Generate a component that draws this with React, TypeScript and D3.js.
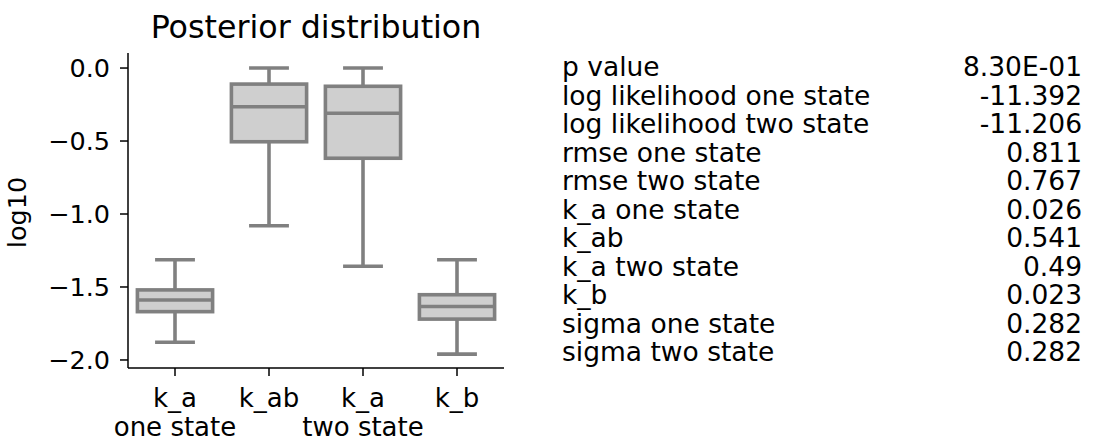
import React from "react";
import * as d3 from "d3";

// box plot values (log10)
const names = ["k_a", "k_ab", "k_a", "k_b"];
const subNames = ["one state", "", "two state", ""];
const whiskerHigh = [-1.313, 0.0, 0.0, -1.313];
const q3 = [-1.52, -0.11, -0.125, -1.553];
const median = [-1.589, -0.265, -0.31, -1.634];
const q1 = [-1.669, -0.505, -0.618, -1.72];
const whiskerLow = [-1.879, -1.08, -1.358, -1.96];
const yTicks = [0, -0.5, -1, -1.5, -2];

// stats table on the right
const statLabels = [
  "p value",
  "log likelihood one state",
  "log likelihood two state",
  "rmse one state",
  "rmse two state",
  "k_a one state",
  "k_ab",
  "k_a two state",
  "k_b",
  "sigma one state",
  "sigma two state",
];
const statValues = [
  "8.30E-01",
  "-11.392",
  "-11.206",
  "0.811",
  "0.767",
  "0.026",
  "0.541",
  "0.49",
  "0.023",
  "0.282",
  "0.282",
];

const W = 1107;
const H = 443;
const font = "'DejaVu Sans', sans-serif";
const boxStroke = "#808080";
const boxFill = "#cfcfcf";

export default function App() {
  const left = 128, right = 504, top = 53, bottom = 368;

  const x = d3.scaleBand<number>().domain(d3.range(names.length)).range([left, right]).padding(0);
  const y = d3.scaleLinear().domain([-2.055, 0.103]).range([bottom, top]);
  const fmt = d3.format(".1f");

  const bw = x.bandwidth() * 0.8;
  const capW = bw * 0.53;

  const rowY = d3.scaleLinear().domain([0, statLabels.length - 1]).range([76, 361]);

  return (
    <svg width={W} height={H} style={{ position: "absolute", left: 0, top: 0 }} fontFamily={font}>
      <rect width={W} height={H} fill="#fff" />

      <text x={316} y={38} fontSize={31.7} textAnchor="middle" fill="#000">
        Posterior distribution
      </text>

      {names.map((n, i) => {
        const cx = x(i)! + x.bandwidth() / 2;
        return (
          <g key={i} stroke={boxStroke} strokeWidth={3.6} fill="none">
            <line x1={cx} x2={cx} y1={y(q3[i])} y2={y(whiskerHigh[i])} />
            <line x1={cx} x2={cx} y1={y(q1[i])} y2={y(whiskerLow[i])} />
            <line x1={cx - capW / 2} x2={cx + capW / 2} y1={y(whiskerHigh[i])} y2={y(whiskerHigh[i])} />
            <line x1={cx - capW / 2} x2={cx + capW / 2} y1={y(whiskerLow[i])} y2={y(whiskerLow[i])} />
            <rect x={cx - bw / 2} width={bw} y={y(q3[i])} height={y(q1[i]) - y(q3[i])} fill={boxFill} />
            <line x1={cx - bw / 2} x2={cx + bw / 2} y1={y(median[i])} y2={y(median[i])} />
          </g>
        );
      })}

      {/* axes */}
      <line x1={left} x2={left} y1={top} y2={bottom} stroke="#000" strokeWidth={1.5} />
      <line x1={left} x2={right} y1={bottom} y2={bottom} stroke="#000" strokeWidth={1.5} />

      {yTicks.map((t) => (
        <g key={t}>
          <line x1={left - 8} x2={left} y1={y(t)} y2={y(t)} stroke="#000" strokeWidth={1.5} />
          <text x={left - 18} y={y(t) + 9} fontSize={25.5} textAnchor="end" fill="#000">
            {fmt(t)}
          </text>
        </g>
      ))}

      {names.map((n, i) => {
        const cx = x(i)! + x.bandwidth() / 2;
        return (
          <g key={i}>
            <line x1={cx} x2={cx} y1={bottom} y2={bottom + 8} stroke="#000" strokeWidth={1.5} />
            <text x={cx} y={407} fontSize={26} textAnchor="middle" fill="#000">{n}</text>
            {subNames[i] && (
              <text x={cx} y={436} fontSize={26} textAnchor="middle" fill="#000">{subNames[i]}</text>
            )}
          </g>
        );
      })}

      <text transform={`translate(26,${(top + bottom) / 2 + 2}) rotate(-90)`} fontSize={25.5} textAnchor="middle" fill="#000">
        log10
      </text>

      {statLabels.map((s, i) => (
        <g key={i}>
          <text x={562} y={rowY(i)} fontSize={26.5} fill="#000">{s}</text>
          <text x={1082} y={rowY(i)} fontSize={26.5} textAnchor="end" fill="#000">{statValues[i]}</text>
        </g>
      ))}
    </svg>
  );
}
